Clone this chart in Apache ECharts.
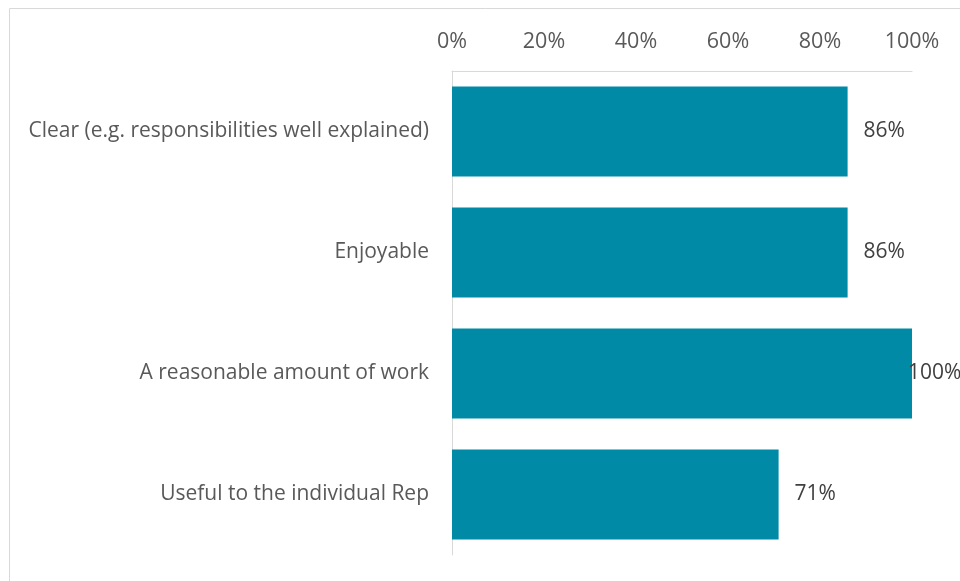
<!DOCTYPE html>
<html>
<head>
<meta charset="utf-8">
<script src="https://cdn.jsdelivr.net/npm/echarts@6/dist/echarts.min.js"></script>
<style>
  html, body { margin: 0; padding: 0; background: #fff; }
  #chart { width: 960px; height: 581px; }
</style>
</head>
<body>
<div id="chart"></div>
<script>
// categories top to bottom
const categories = [
	'Clear (e.g. responsibilities well explained)',
	'Enjoyable',
	'A reasonable amount of work',
	'Useful to the individual Rep'
];
const values = [86, 86, 100, 71];
const tickLabels = ['0%', '20%', '40%', '60%', '80%', '100%'];

const chart = echarts.init(document.getElementById('chart'));

// the 100% label sits over the bar end, as in the original
const barData = values.map(v => ({
	value: v,
	label: { distance: v >= 100 ? -4 : 16 }
}));

chart.setOption({
	textStyle: { fontFamily: 'Open Sans, sans-serif' },
	graphic: [{
		type: 'rect',
		shape: { x: 9.5, y: 8.5, width: 1000, height: 1000 },
		style: { fill: 'none', stroke: '#d9d9d9', lineWidth: 1 },
		silent: true
	}],
	grid: { left: 452, right: 48, top: 71, height: 484 },
	xAxis: {
		type: 'value',
		position: 'top',
		min: 0,
		max: 100,
		interval: 20,
		axisLine: { show: true, lineStyle: { color: '#d9d9d9' } },
		axisTick: { show: false },
		splitLine: { show: false },
		axisLabel: {
			color: '#595959',
			fontSize: 21.5,
			margin: 18,
			formatter: v => tickLabels[v / 20]
		}
	},
	yAxis: {
		type: 'category',
		inverse: true,
		data: categories,
		axisLine: { show: true, lineStyle: { color: '#d9d9d9' } },
		axisTick: { show: false },
		axisLabel: { color: '#595959', fontSize: 21, margin: 23, padding: [4, 0, 0, 0] }
	},
	series: [{
		type: 'bar',
		data: barData,
		barCategoryGap: '25.6%',
		itemStyle: { color: '#008aa6' },
		label: {
			show: true,
			position: 'right',
			color: '#404040',
			fontSize: 21,
			padding: [4, 0, 0, 0],
			formatter: p => p.value + '%'
		}
	}]
});
</script>
</body>
</html>
